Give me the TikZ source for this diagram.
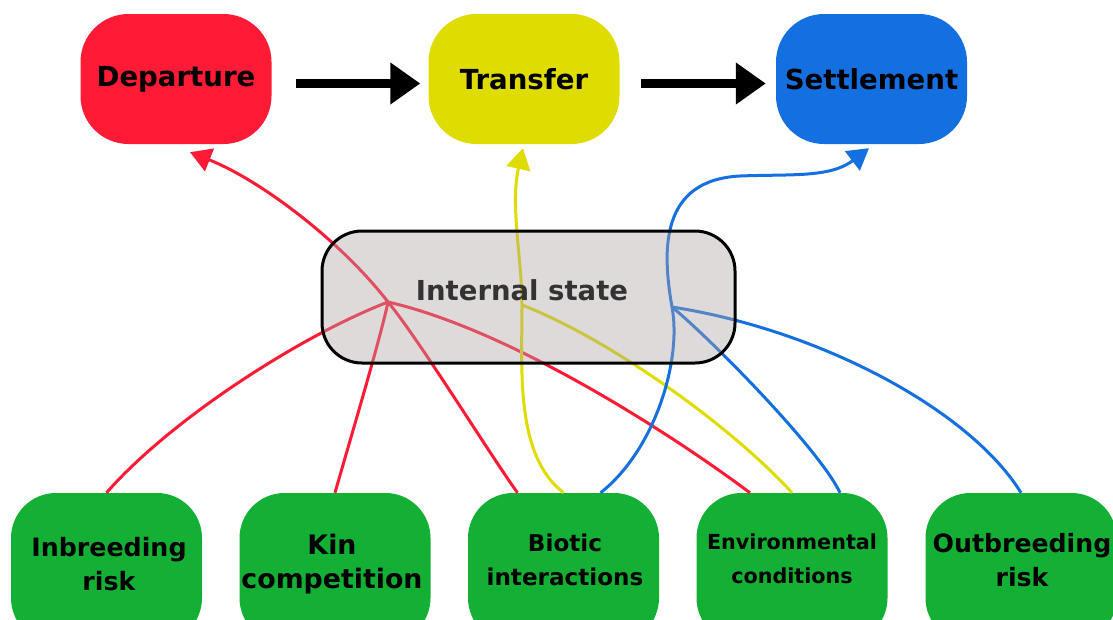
\documentclass[tikz,border=0pt]{standalone}
\usepackage{fontspec}
\setmainfont{DejaVu Sans}
\usetikzlibrary{arrows.meta,calc}
\definecolor{cred}{RGB}{255,26,53}
\definecolor{cylw}{RGB}{222,220,0}
\definecolor{cblu}{RGB}{20,112,224}
\definecolor{cgrn}{RGB}{20,176,53}
\definecolor{cbox}{RGB}{175,162,162}
\definecolor{cgray}{RGB}{51,51,51}
\begin{document}
\begin{tikzpicture}[x=1pt,y=-1pt,
  topbox/.style={rounded corners=48pt, minimum width=191pt, minimum height=130pt, inner sep=0pt, font=\bfseries\fontsize{27.6}{32}\selectfont, text=black},
  botbox/.style={fill=cgrn, rounded corners=45pt, minimum width=191pt, minimum height=150pt, inner sep=0pt},
  bottext/.style={align=center, font=\bfseries\fontsize{#1}{34}\selectfont, text=black, inner sep=0pt},
  conn/.style={line width=3pt},
  tipped/.style={-{Triangle[length=21pt,width=24pt]}},
  bigarrow/.style={draw=black, line width=9pt, -{Triangle[length=30pt,width=40pt]}},
  statebox/.style={draw=black, line width=3pt, fill=cbox, fill opacity=0.4, rounded corners=40pt, minimum width=413pt, minimum height=132pt, inner sep=0pt}
]
\useasboundingbox (0,0) rectangle (1113,619);
\clip (0,0) rectangle (1113,619);

% top stages
\node[topbox, fill=cred] (dep) at (176,79) {Departure};
\node[topbox, fill=cylw] (tra) at (524,79) {Transfer};
\node[topbox, fill=cblu] (set) at (871.5,79) {Settlement};

\draw[bigarrow] ($(dep.east)+(24,4.5)$) -- ($(tra.west)+(-8,4.5)$);
\draw[bigarrow] ($(tra.east)+(21,4.5)$) -- ($(set.west)+(-10,4.5)$);

% bottom factors
\node[botbox] (inb) at (106.5,568) {};
\node[botbox] (kin) at (335,568) {};
\node[botbox] (bio) at (563.5,568) {};
\node[botbox] (env) at (792,568) {};
\node[botbox] (out) at (1021,568) {};
\node[bottext=25.3] (inbt) at (109,564) {Inbreeding\\risk};
\node[bottext=26.8] (kint) at (332,564) {Kin\\competition};
\node[bottext=23.1] (biot) at (565,560) {Biotic\\interactions};
\node[bottext=20.7] (envt) at (792,559) {Environmental\\conditions};
\node[bottext=25.2] (outt) at (1022,560) {Outbreeding\\risk};

% hubs
\coordinate (hubR) at (388,302);
\coordinate (hubY) at (522,305);
\coordinate (hubB) at (672,307);
\coordinate (bendB) at (740,176);

% red
\draw[conn, cred, tipped] ([xshift=-46pt]bio.north) .. controls (487,450) and (418,338) .. (hubR)
  .. controls (340,240) and (260,180) .. ($(dep.south)+(14,8)$);
\draw[conn, cred] (hubR) .. controls (380,340) and (350,440) .. (kin.north);
\draw[conn, cred] (hubR) .. controls (300,336) and (170,420) .. (inb.north);
\draw[conn, cred] (hubR) .. controls (510,330) and (670,433) .. ([xshift=-42pt]env.north);

% yellow
\draw[conn, cylw, tipped] (bio.north) .. controls (515,455) and (522,370) .. (hubY)
  .. controls (522,260) and (510,205) .. ($(tra.south)+(-1,4)$);
\draw[conn, cylw] (hubY) .. controls (612,340) and (733,428) .. (env.north);

% blue
\draw[conn, cblu, tipped] ([xshift=37pt]bio.north) .. controls (655,450) and (682,360) .. (hubB)
  .. controls (662,250) and (660,180) .. (bendB)
  .. controls (790,174) and (830,178) .. ($(set.south)+(-2.5,4)$);
\draw[conn, cblu] (hubB) .. controls (712,340) and (820,450) .. ([xshift=48pt]env.north);
\draw[conn, cblu] (hubB) .. controls (820,330) and (970,410) .. (out.north);

% internal state (semi-transparent, over the connectors)
\node[statebox] (int) at (528.5,297) {};
\node[font=\bfseries\fontsize{27.5}{32}\selectfont, text=cgray, inner sep=0pt] (intl) at (522,290.5) {Internal state};
\end{tikzpicture}
\end{document}
